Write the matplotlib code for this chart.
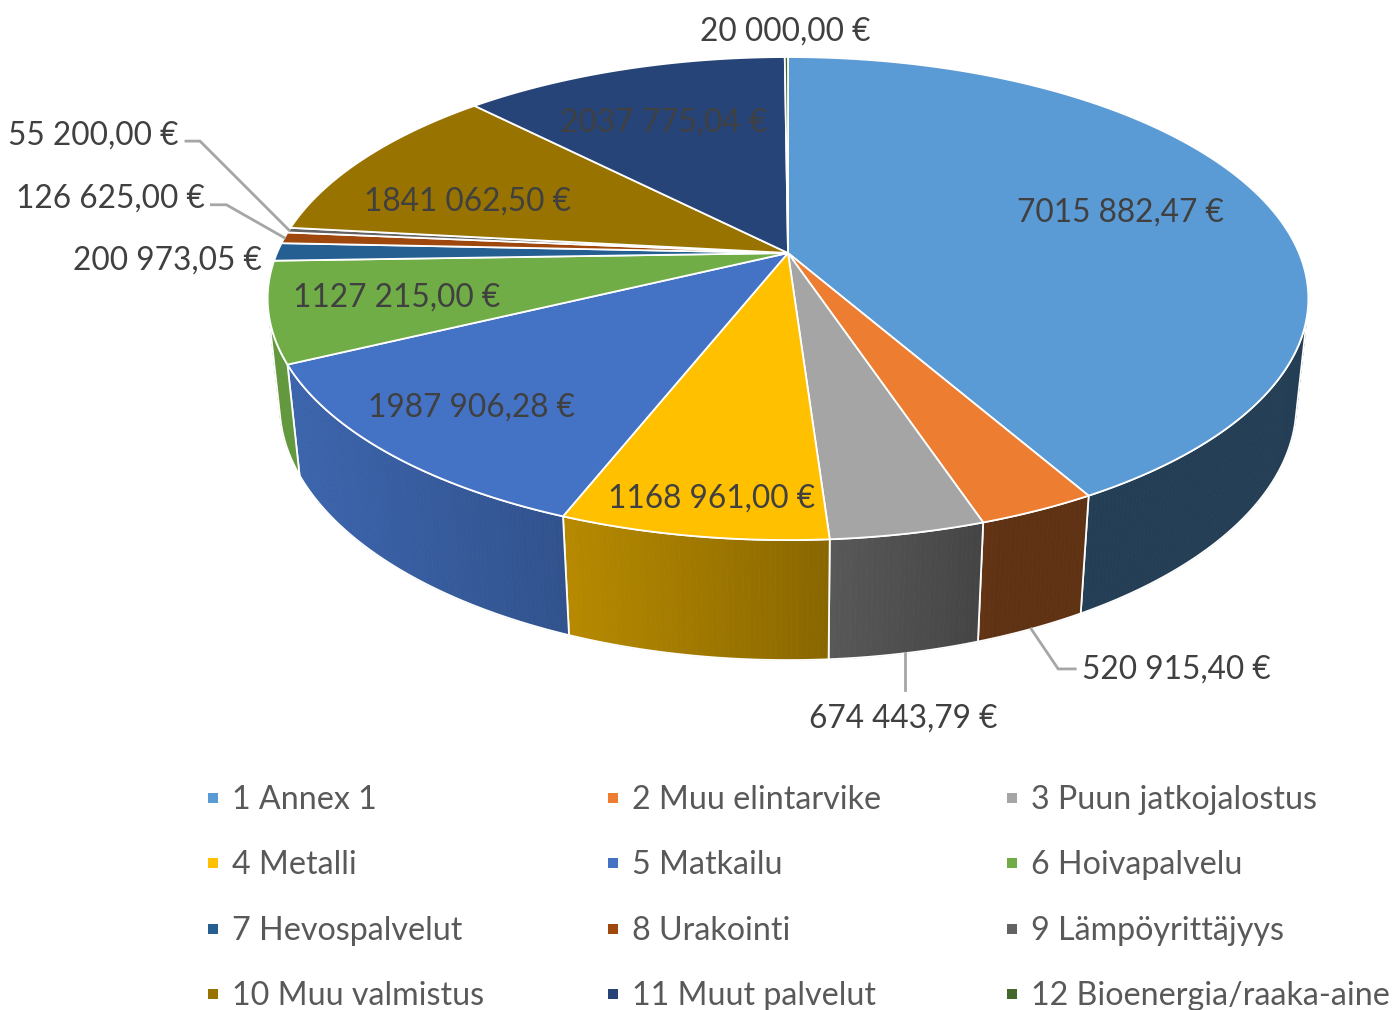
"""3D-style pie of funding per sector, drawn with a small perspective projection."""

from __future__ import annotations

import matplotlib

matplotlib.use("Agg")
import matplotlib.pyplot as plt
import numpy as np
from matplotlib.colors import to_rgb
from matplotlib.patches import Polygon

categories = [
    "1 Annex 1",
    "2 Muu elintarvike",
    "3 Puun jatkojalostus",
    "4 Metalli",
    "5 Matkailu",
    "6 Hoivapalvelu",
    "7 Hevospalvelut",
    "8 Urakointi",
    "9 Lämpöyrittäjyys",
    "10 Muu valmistus",
    "11 Muut palvelut",
    "12 Bioenergia/raaka-aine",
]
values = [
    7015882.47,
    520915.40,
    674443.79,
    1168961.00,
    1987906.28,
    1127215.00,
    200973.05,
    126625.00,
    55200.00,
    1841062.50,
    2037775.04,
    20000.00,
]
colors = [
    "#5B9BD5", "#ED7D31", "#A5A5A5", "#FFC000", "#4472C4", "#70AD47",
    "#255E91", "#9E480E", "#636363", "#997300", "#264478", "#43682B",
]

W, H = 1394, 1010
FONT = ["Lato", "DejaVu Sans"]
LABEL_SIZE = 22.8
LEGEND_SIZE = 23.2
LABEL_DY = 3  # va="center" sits a little high for digits
LABEL_COLOR = "#404040"
LEGEND_COLOR = "#595959"
LEADER_COLOR = "#A6A6A6"

# camera for the tilted disc (unit radius, top face at z=0)
CX, CY = 788.0, 253.0
FOCAL = 511.0
TILT = np.arcsin(0.4558)
DIST = 4.72
THICK = 0.2344

# labels drawn on the slice: index -> (radius, angle nudge in degrees)
inside_labels = {0: (0.70, -1.2), 3: (0.88, -0.6), 4: (0.80, 0.9),
                 5: (0.76, 0.8), 9: (0.70, -5.8), 10: (0.70, -0.6)}
# labels outside: index -> (rim level, elbow offset, tail length, text offset, ha)
outside_labels = {
    1: ("bottom", (27, 40), 17, (24, -2), "left"),
    2: ("bottom", (0, 37), 0, (-2, 25), "center"),
    6: ("top", None, 0, (-16, 6), "right"),
    7: ("top", (-58, -33), -15, (-22, -9), "right"),
    8: ("top", (-89, -89), -14, (-21, -9), "right"),
    11: ("top", None, 0, (-1, -29), "center"),
}


def fmt_eur(v: float) -> str:
    cents = int(round(v * 100))
    whole, frac = divmod(cents, 100)
    if whole >= 1000:
        return f"{whole // 1000} {whole % 1000:03d},{frac:02d} €"
    return f"{whole},{frac:02d} €"


def project(x, y, z):
    d = 1 + (np.cos(TILT) * y - np.sin(TILT) * z) / DIST
    return CX + FOCAL * x / d, CY - FOCAL * (np.sin(TILT) * y + np.cos(TILT) * z) / d


def rim(theta, z, r=1.0):
    t = np.radians(theta)
    return project(r * np.sin(t), r * np.cos(t), z)


def arc(a, b, z, step=0.5):
    n = max(2, int(np.ceil(abs(b - a) / step)) + 1)
    th = np.linspace(a, b, n)
    sx, sy = rim(th, z)
    return np.column_stack([sx, sy])


def shade(theta):
    return 0.40 + 0.48 * max(0.0, np.cos(np.radians(theta - 250)))


def main() -> None:
    fig = plt.figure(figsize=(W / 100, H / 100), dpi=100)
    ax = fig.add_axes([0, 0, 1, 1])
    ax.set_xlim(0, W)
    ax.set_ylim(H, 0)
    ax.axis("off")

    total = sum(values)
    edges = np.concatenate([[0], np.cumsum(values) / total * 360])

    # outer wall, only the part that faces the camera
    vis = np.degrees(np.arccos(-1 / (DIST * np.cos(TILT))))
    for i, c in enumerate(colors):
        lo, hi = max(edges[i], vis), min(edges[i + 1], 360 - vis)
        if lo >= hi:
            continue
        base = np.array(to_rgb(c))
        th = np.linspace(lo, hi, max(2, int(np.ceil((hi - lo) / 0.5)) + 1))
        for a, b in zip(th[:-1], th[1:]):
            pts = np.vstack([arc(a, b, 0, 1), arc(b, a, -THICK, 1)])
            col = np.clip(base * shade((a + b) / 2), 0, 1)
            ax.add_patch(Polygon(pts, closed=True, facecolor=col, edgecolor=col, lw=0.6))
        outline = np.vstack([arc(lo, hi, 0), arc(hi, lo, -THICK)])
        ax.add_patch(Polygon(outline, closed=True, facecolor="none",
                             edgecolor="white", lw=1.3, joinstyle="round"))

    # top face
    for i, c in enumerate(colors):
        pts = np.vstack([[CX, CY], arc(edges[i], edges[i + 1], 0)])
        ax.add_patch(Polygon(pts, closed=True, facecolor=c, edgecolor="white",
                             lw=1.3, joinstyle="round"))

    mids = (edges[:-1] + edges[1:]) / 2
    for i, (r, nudge) in inside_labels.items():
        x, y = rim(mids[i] + nudge, 0, r)
        ax.text(x, y + LABEL_DY, fmt_eur(values[i]), ha="center", va="center",
                fontsize=LABEL_SIZE, color=LABEL_COLOR, family=FONT)

    for i, (level, elbow, tail, toff, ha) in outside_labels.items():
        x0, y0 = rim(mids[i], 0 if level == "top" else -THICK)
        if elbow is None:
            tx, ty = x0 + toff[0], y0 + toff[1]
        else:
            ex, ey = x0 + elbow[0], y0 + elbow[1]
            ax.plot([x0, ex, ex + tail], [y0, ey, ey], color=LEADER_COLOR,
                    lw=2.0, solid_joinstyle="miter")
            tx, ty = ex + toff[0], ey + toff[1]
        ax.text(tx, ty + LABEL_DY, fmt_eur(values[i]), ha=ha, va="center",
                fontsize=LABEL_SIZE, color=LABEL_COLOR, family=FONT)

    # legend, row by row in three columns
    for k, (name, c) in enumerate(zip(categories, colors)):
        row, col = divmod(k, 3)
        lx = 213 + 399.5 * col
        ly = 798 + 65.3 * row
        ax.scatter([lx], [ly], marker="s", s=52, color=c, linewidths=0)
        ax.text(lx + 19, ly + 2, name, ha="left", va="center", fontsize=LEGEND_SIZE,
                color=LEGEND_COLOR, family=FONT)

    fig.savefig("out.png", dpi=100, facecolor="white")
    plt.close(fig)


if __name__ == "__main__":
    main()
